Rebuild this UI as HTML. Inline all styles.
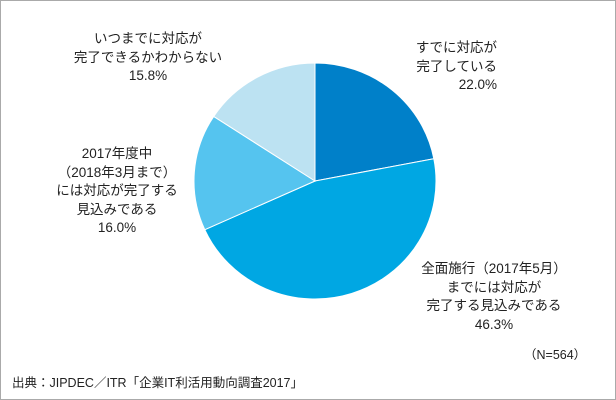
<!DOCTYPE html>
<html><head><meta charset="utf-8"><style>
body{margin:0;width:616px;height:400px;background:#fff;font-family:"Liberation Sans","Noto Sans CJK JP",sans-serif;}
#frame{position:absolute;left:0;top:0;width:614px;height:398px;border:1px solid #aaa;}
.lbl{position:absolute;font-size:13.5px;line-height:18.5px;color:#222;white-space:nowrap;}
.c{transform:translateX(-50%);text-align:center;}
</style></head><body>
<div id="frame"></div>
<svg width="616" height="400" style="position:absolute;left:0;top:0">
<g id="pie"></g>
</svg>
<div class="lbl" style="right:119px;top:39px;text-align:right">すでに対応が<br>完了している<br>22.0%</div>
<div class="lbl c" style="left:494px;top:260px">全面施行（2017年5月）<br>までには対応が<br>完了する見込みである<br>46.3%</div>
<div class="lbl c" style="left:117px;top:145px">2017年度中<br>（2018年3月まで）<br>には対応が完了する<br>見込みである<br>16.0%</div>
<div class="lbl c" style="left:148px;top:30px">いつまでに対応が<br>完了できるかわからない<br>15.8%</div>
<div class="lbl" style="left:524px;top:346px;font-size:12.5px">（N=564）</div>
<div class="lbl" style="left:12px;top:374px;font-size:12.5px">出典：JIPDEC／ITR「企業IT利活用動向調査2017」</div>
<script>
const categories=["すでに対応が完了している","全面施行までには完了する見込み","2017年度中には完了する見込み","いつまでに完了できるかわからない"];
const values=[22.0,46.3,16.0,15.8];
const colors=["#0080C9","#00A7E3","#55C4EF","#BCE2F2"];
const cx=315,cy=181,rx=121,ry=118;
const g=document.getElementById('pie');
const total=values.reduce((a,b)=>a+b,0);
let a0=-Math.PI/2;
values.forEach((v,i)=>{
  const a1=a0+v/total*2*Math.PI;
  const x0=cx+rx*Math.cos(a0),y0=cy+ry*Math.sin(a0),x1=cx+rx*Math.cos(a1),y1=cy+ry*Math.sin(a1);
  const p=document.createElementNS('http://www.w3.org/2000/svg','path');
  p.setAttribute('d',`M${cx},${cy}L${x0},${y0}A${rx},${ry} 0 ${a1-a0>Math.PI?1:0} 1 ${x1},${y1}Z`);
  p.setAttribute('fill',colors[i]);
  p.setAttribute('stroke','#fff');
  p.setAttribute('stroke-width','1');
  
  
  g.appendChild(p);
  a0=a1;
});
</script>
</body></html>
